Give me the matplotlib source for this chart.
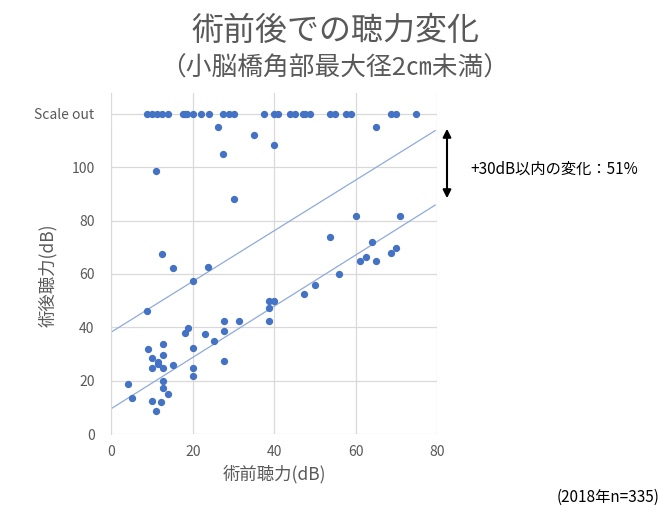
import matplotlib
matplotlib.use("Agg")
import matplotlib.pyplot as plt

plt.rcParams['font.family'] = ['Noto Sans CJK JP', 'DejaVu Sans']

# points (pre-op dB, post-op dB)
pre_db = [26.3, 35.0, 40.0, 27.5, 11.1, 30.1, 65.0,
          60.0, 70.9, 53.8, 63.9, 69.9, 68.7, 62.4, 61.0, 64.9, 56.0,
          23.8, 38.8, 40.0, 38.8, 47.4, 50.0, 27.6, 31.3, 38.8, 27.6,
          25.1, 23.0, 27.6,
          12.5, 15.1, 20.1, 8.9, 18.8, 18.0,
          9.0, 12.6, 10.1, 12.6, 11.4, 11.4, 10.1, 12.6, 15.1, 20.1,
          20.1, 20.1, 4.0, 12.6, 12.6, 13.9, 5.2, 10.1, 12.1, 11.1]
post_db = [115.0, 112.0, 108.4, 105.0, 98.7, 88.1, 115.0,
           81.9, 81.9, 73.7, 71.9, 69.9, 68.0, 66.2, 64.9, 64.9, 59.9,
           62.5, 49.9, 49.9, 47.4, 52.4, 55.9, 42.4, 42.4, 42.4, 38.6,
           34.9, 37.4, 27.4,
           67.4, 62.4, 57.4, 46.1, 39.9, 38.0,
           31.9, 33.7, 28.6, 29.6, 27.1, 26.2, 24.9, 24.9, 25.9, 32.4,
           24.9, 21.9, 18.7, 19.9, 17.4, 14.9, 13.6, 12.4, 11.9, 8.6]

# post-op hearing beyond the scale ("Scale out")
scale_out_value = 120
scale_out_pre = [8.9, 10.1, 11.2, 12.5, 13.9, 17.5, 18.1, 18.7, 20.1, 22.1,
                 24.0, 27.5, 28.8, 30.1, 37.6, 40.0, 41.0, 43.9, 45.0, 47.0,
                 47.6, 48.7, 53.8, 54.9, 57.5, 58.8, 68.7, 69.9, 74.9]

# reference lines: intercept, slope
lower_line = [9.5, 0.96]
upper_line = [38.2, 0.95]
line_x = [0, 79.5]

x_ticks = [0, 20, 40, 60, 80]
y_ticks = [0, 20, 40, 60, 80, 100, 120]
y_tick_labels = ['0', '20', '40', '60', '80', '100', 'Scale out']

dot_color = '#4472C4'
line_color = '#8FAADC'
grid_color = '#D9D9D9'
text_gray = '#595959'

fig = plt.figure(figsize=(6.7, 5.12), dpi=100)
ax = fig.add_axes([0.166, 0.1523, 0.4866, 0.667])

for b, m in (lower_line, upper_line):
    ax.plot(line_x, [b + m * x for x in line_x], color=line_color, lw=0.9, zorder=2)

ax.scatter(pre_db, post_db, s=18, color=dot_color, zorder=3, clip_on=False)
ax.scatter(scale_out_pre, [scale_out_value] * len(scale_out_pre), s=18,
           color=dot_color, zorder=3, clip_on=False)

ax.set_xlim(0, 80)
ax.set_ylim(0, 128)
ax.set_xticks(x_ticks)
ax.set_yticks(y_ticks)
ax.set_yticklabels(y_tick_labels)
ax.tick_params(length=0, labelsize=10, labelcolor=text_gray)
ax.tick_params(axis='y', pad=12)
ax.tick_params(axis='x', pad=8)
ax.grid(True, color=grid_color, lw=0.9)
ax.set_axisbelow(True)
for side in ('top', 'right', 'bottom'):
    ax.spines[side].set_visible(False)
ax.spines['left'].set_color(grid_color)
ax.spines['left'].set_bounds(0, 113)

ax.set_xlabel('術前聴力(dB)', fontsize=12.5, color=text_gray, labelpad=4)
ax.set_ylabel('術後聴力(dB)', fontsize=12.5, color=text_gray)
ax.yaxis.set_label_coords(-0.166, 0.466)

fig.text(0.5, 0.94, '術前後での聴力変化', ha='center', va='center',
         fontsize=23, color=text_gray)
fig.text(0.5, 0.867, '（小脳橋角部最大径2㎝未満）', ha='center', va='center',
         fontsize=18.5, color=text_gray)

# double arrow beside the chart
fig.add_artist(matplotlib.patches.FancyArrowPatch(
    (447 / 670, 1 - 126 / 512), (447 / 670, 1 - 201 / 512),
    transform=fig.transFigure, arrowstyle='<|-|>', mutation_scale=12,
    color='black', lw=1.5))
fig.text(470 / 670, 1 - 169 / 512, '+30dB以内の変化：51%', ha='left', va='center',
         fontsize=11, color='black')

fig.text(0.985, 1 - 497 / 512, '(2018年n=335)', ha='right', va='center',
         fontsize=11, color='black')

fig.savefig('out.png', dpi=100)
